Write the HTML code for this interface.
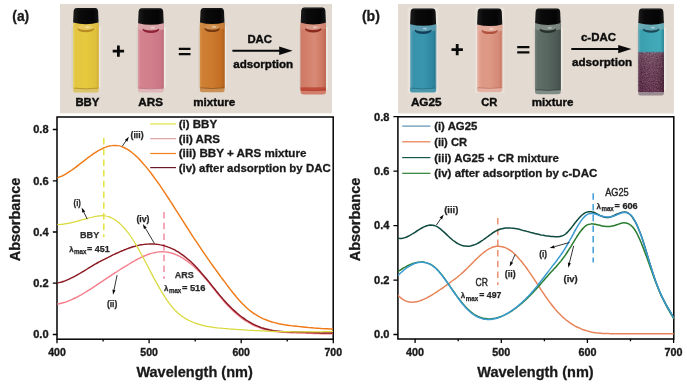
<!DOCTYPE html>
<html><head><meta charset="utf-8"><title>fig</title>
<style>
html,body{margin:0;padding:0;background:#fff;}
body{width:687px;height:384px;overflow:hidden;font-family:"Liberation Sans",sans-serif;}
svg{display:block;}
text{font-family:"Liberation Sans",sans-serif;fill:#1a1a1a;}
.b{font-weight:bold;stroke:#1a1a1a;stroke-width:0.3px;}
.tk{font-weight:bold;font-size:10.6px;stroke:#1a1a1a;stroke-width:0.35px;}
.lg{font-weight:bold;font-size:11px;stroke:#1a1a1a;stroke-width:0.3px;}
.an{font-weight:bold;font-size:9px;fill:#262626;stroke:#262626;stroke-width:0.25px;}
.an2{font-weight:bold;font-size:9.6px;fill:#303030;stroke:#303030;stroke-width:0.25px;}
.an3{font-size:10.4px;fill:#262626;stroke:#262626;stroke-width:0.4px;}
.ax{font-weight:bold;font-size:14.5px;stroke:#1a1a1a;stroke-width:0.3px;}
.ph{font-weight:bold;font-size:11.6px;fill:#0d0d0d;stroke:#0d0d0d;stroke-width:0.4px;}
</style></head><body>
<svg width="687" height="384" viewBox="0 0 687 384">
<defs>
<linearGradient id="cap" x1="0" x2="1" y1="0" y2="0"><stop offset="0" stop-color="#1c1c1c"/><stop offset="0.25" stop-color="#0a0a0a"/><stop offset="0.8" stop-color="#050505"/><stop offset="1" stop-color="#161616"/></linearGradient>
<linearGradient id="gY" x1="0" x2="1" y1="0" y2="0"><stop offset="0" stop-color="#e8d46c"/><stop offset="0.1" stop-color="#e3c540"/><stop offset="0.5" stop-color="#e7c93e"/><stop offset="0.88" stop-color="#dec03c"/><stop offset="1" stop-color="#d0b038"/></linearGradient>
<linearGradient id="gP" x1="0" x2="1" y1="0" y2="0"><stop offset="0" stop-color="#dc9ca4"/><stop offset="0.1" stop-color="#d4828f"/><stop offset="0.5" stop-color="#d27e8b"/><stop offset="0.85" stop-color="#cc7786"/><stop offset="1" stop-color="#c06d7c"/></linearGradient>
<linearGradient id="gO" x1="0" x2="1" y1="0" y2="0"><stop offset="0" stop-color="#d49048"/><stop offset="0.1" stop-color="#cf8034"/><stop offset="0.5" stop-color="#cc7a2c"/><stop offset="0.85" stop-color="#c46e24"/><stop offset="1" stop-color="#b0601e"/></linearGradient>
<linearGradient id="gS" x1="0" x2="1" y1="0" y2="0"><stop offset="0" stop-color="#cc7a68"/><stop offset="0.15" stop-color="#d07c68"/><stop offset="0.55" stop-color="#d88a76"/><stop offset="0.85" stop-color="#ce7862"/><stop offset="1" stop-color="#bc6654"/></linearGradient>
<linearGradient id="gB" x1="0" x2="1" y1="0" y2="0"><stop offset="0" stop-color="#8fbac6"/><stop offset="0.06" stop-color="#4a9ab0"/><stop offset="0.14" stop-color="#3892ab"/><stop offset="0.5" stop-color="#3995ae"/><stop offset="0.85" stop-color="#2f87a0"/><stop offset="0.95" stop-color="#2a7b94"/><stop offset="1" stop-color="#7aa8b6"/></linearGradient>
<linearGradient id="gC" x1="0" x2="1" y1="0" y2="0"><stop offset="0" stop-color="#ecc4b8"/><stop offset="0.07" stop-color="#e2a694"/><stop offset="0.2" stop-color="#dc9884"/><stop offset="0.5" stop-color="#dd9985"/><stop offset="0.85" stop-color="#d48a76"/><stop offset="0.95" stop-color="#ca7e6a"/><stop offset="1" stop-color="#dcaea0"/></linearGradient>
<linearGradient id="gG" x1="0" x2="1" y1="0" y2="0"><stop offset="0" stop-color="#74807a"/><stop offset="0.1" stop-color="#616f69"/><stop offset="0.5" stop-color="#57665f"/><stop offset="0.85" stop-color="#4c5954"/><stop offset="1" stop-color="#434f4c"/></linearGradient>
<linearGradient id="gT" x1="0" x2="1" y1="0" y2="0"><stop offset="0" stop-color="#6ab0bc"/><stop offset="0.1" stop-color="#3a9fae"/><stop offset="0.5" stop-color="#3fa7b6"/><stop offset="0.85" stop-color="#42aab8"/><stop offset="1" stop-color="#2f8898"/></linearGradient>
<linearGradient id="gU" x1="0" x2="1" y1="0" y2="0"><stop offset="0" stop-color="#5a2c44"/><stop offset="0.15" stop-color="#70405a"/><stop offset="0.5" stop-color="#784862"/><stop offset="0.85" stop-color="#6c3c56"/><stop offset="1" stop-color="#522840"/></linearGradient>
<filter id="soft" x="-2%" y="-2%" width="104%" height="104%" color-interpolation-filters="sRGB"><feGaussianBlur stdDeviation="0.45"/></filter>
<pattern id="speck" width="5" height="5" patternUnits="userSpaceOnUse"><circle cx="1.2" cy="1.3" r="0.7" fill="#a88096"/><circle cx="3.6" cy="3.4" r="0.6" fill="#4a2238"/><circle cx="3.9" cy="0.8" r="0.5" fill="#94687e"/><circle cx="0.9" cy="4" r="0.5" fill="#3e1c30"/></pattern>
<linearGradient id="gUv" x1="0" x2="0" y1="0" y2="1"><stop offset="0" stop-color="#8c687c"/><stop offset="0.12" stop-color="#7c566a"/><stop offset="0.35" stop-color="#704660"/><stop offset="1" stop-color="#5c2c46"/></linearGradient>
<linearGradient id="gUh" x1="0" x2="1" y1="0" y2="0"><stop offset="0" stop-color="#c0a8b4" stop-opacity="0.3"/><stop offset="0.1" stop-color="#000" stop-opacity="0.08"/><stop offset="0.5" stop-color="#fff" stop-opacity="0.03"/><stop offset="0.88" stop-color="#000" stop-opacity="0.1"/><stop offset="1" stop-color="#000" stop-opacity="0.28"/></linearGradient>
<filter id="gran" x="0" y="0" width="1" height="1" color-interpolation-filters="sRGB"><feTurbulence type="fractalNoise" baseFrequency="0.75" numOctaves="2" seed="7" result="n"/><feColorMatrix in="n" type="matrix" values="1.0 0 0 0 -0.1  0.7 0 0 0 -0.13  0.8 0 0 0 -0.08  0 0 0 0 1"/><feComposite in2="SourceGraphic" operator="in"/></filter>
</defs>
<rect width="687" height="384" fill="#fff"/>
<g style="opacity:0.999">

<rect x="60" y="4" width="272" height="109.3" fill="#e3dbd1"/>
<rect x="398" y="4" width="276" height="109.5" fill="#e3dbd1"/>
<g filter="url(#soft)">
<rect x="98.5" y="27.0" width="2.0" height="60.6" fill="#f1eee9" opacity="0.8"/><rect x="71.6" y="27.0" width="1.6" height="60.6" fill="#d2cac0" opacity="0.6"/><path d="M73.0 23.0H98.7V90.0Q98.7 92.6 95.7 92.6H76.0Q73.0 92.6 73.0 90.0Z" fill="#dcc468"/><rect x="73.0" y="23.0" width="25.7" height="65.4" fill="url(#gY)"/><path d="M73.0 23.0H98.7V28.6Q85.8 32.4 73.0 28.6Z" fill="#e0c060" opacity="0.25"/><path d="M73.6 88.1Q85.8 89.6 98.1 88.1" stroke="#a8841c" stroke-width="0.9" fill="none" opacity="0.8"/><ellipse cx="85.8" cy="29.0" rx="8.3" ry="3.3" fill="#b88c22"/><ellipse cx="85.8" cy="27.4" rx="8.1" ry="2.5" fill="#e6c85e"/><ellipse cx="87.6" cy="27.1" rx="2.2" ry="0.9" fill="#fff" opacity="0.45"/><path d="M73.1 22.6L73.6 11.4Q74.0 8.0 76.7 8.0H95.0Q97.7 8.0 98.1 11.4L98.6 22.6Q85.8 25.8 73.1 22.6Z" fill="url(#cap)"/><rect x="76.1" y="8.5" width="19.5" height="0.9" fill="#3a3a3a" opacity="0.5"/>
<rect x="163.6" y="27.6" width="2.0" height="60.0" fill="#f1eee9" opacity="0.8"/><rect x="136.6" y="27.6" width="1.6" height="60.0" fill="#d2cac0" opacity="0.6"/><path d="M138.0 23.6H163.8V90.0Q163.8 92.6 160.8 92.6H141.0Q138.0 92.6 138.0 90.0Z" fill="#e0b6ba"/><rect x="138.0" y="23.6" width="25.8" height="64.8" fill="url(#gP)"/><path d="M138.0 23.6H163.8V29.2Q150.9 33.0 138.0 29.2Z" fill="#dcb0b0" opacity="0.75"/><path d="M138.6 88.1Q150.9 89.6 163.2 88.1" stroke="#b86a78" stroke-width="0.9" fill="none" opacity="0.8"/><ellipse cx="150.9" cy="29.6" rx="8.3" ry="3.3" fill="#8e2436"/><ellipse cx="150.9" cy="28.0" rx="8.1" ry="2.5" fill="#d8a4a8"/><ellipse cx="152.7" cy="27.7" rx="2.2" ry="0.9" fill="#fff" opacity="0.45"/><path d="M138.1 23.2L138.6 11.6Q139.0 8.2 141.7 8.2H160.1Q162.8 8.2 163.2 11.6L163.7 23.2Q150.9 26.4 138.1 23.2Z" fill="url(#cap)"/><rect x="141.1" y="8.7" width="19.6" height="0.9" fill="#3a3a3a" opacity="0.5"/>
<rect x="224.4" y="26.8" width="2.0" height="60.5" fill="#f1eee9" opacity="0.8"/><rect x="198.5" y="26.8" width="1.6" height="60.5" fill="#d2cac0" opacity="0.6"/><path d="M199.9 22.8H224.6V89.7Q224.6 92.3 221.6 92.3H202.9Q199.9 92.3 199.9 89.7Z" fill="#cb9054"/><rect x="199.9" y="22.8" width="24.7" height="65.3" fill="url(#gO)"/><path d="M199.9 22.8H224.6V28.4Q212.2 32.2 199.9 28.4Z" fill="#cc8c4a" opacity="0.60"/><path d="M200.5 87.8Q212.2 89.3 224.0 87.8" stroke="#8a4a12" stroke-width="0.9" fill="none" opacity="0.8"/><ellipse cx="212.2" cy="28.8" rx="7.7" ry="3.3" fill="#7a3a10"/><ellipse cx="212.2" cy="27.2" rx="7.5" ry="2.5" fill="#cf9050"/><ellipse cx="214.1" cy="26.9" rx="2.2" ry="0.9" fill="#fff" opacity="0.45"/><path d="M200.0 22.4L200.5 11.3Q200.9 7.9 203.6 7.9H220.9Q223.6 7.9 224.0 11.3L224.5 22.4Q212.2 25.6 200.0 22.4Z" fill="url(#cap)"/><rect x="203.0" y="8.4" width="18.5" height="0.9" fill="#3a3a3a" opacity="0.5"/>
<rect x="325.8" y="27.2" width="2.0" height="62.2" fill="#f1eee9" opacity="0.8"/><rect x="299.2" y="27.2" width="1.6" height="62.2" fill="#d2cac0" opacity="0.6"/><path d="M300.6 23.2H326.0V91.8Q326.0 94.4 323.0 94.4H303.6Q300.6 94.4 300.6 91.8Z" fill="#d27e6a"/><rect x="300.6" y="23.2" width="25.4" height="67.0" fill="url(#gS)"/><path d="M300.6 23.2H326.0V28.8Q313.3 32.6 300.6 28.8Z" fill="#d3937e" opacity="0.60"/><path d="M301.2 89.9Q313.3 91.4 325.4 89.9" stroke="#a83a2a" stroke-width="0.9" fill="none" opacity="0.8"/><ellipse cx="313.3" cy="29.2" rx="8.1" ry="3.3" fill="#8c2a20"/><ellipse cx="313.3" cy="27.6" rx="7.9" ry="2.5" fill="#d89888"/><ellipse cx="315.1" cy="27.3" rx="2.2" ry="0.9" fill="#fff" opacity="0.45"/><rect x="300.6" y="87.3" width="25.4" height="3.4" fill="#b8402e" opacity="0.8"/><path d="M300.7 22.8L301.2 10.8Q301.6 7.4 304.3 7.4H322.3Q325.0 7.4 325.4 10.8L325.9 22.8Q313.3 26.0 300.7 22.8Z" fill="url(#cap)"/><rect x="303.7" y="7.9" width="19.2" height="0.9" fill="#3a3a3a" opacity="0.5"/>
<rect x="407.6" y="7.4" width="30.6" height="85.6" fill="#e9e3dc"/>
<path d="M410.0 24.6H436.2V90.0Q436.2 92.6 433.2 92.6H413.0Q410.0 92.6 410.0 90.0Z" fill="#4a98ac"/><rect x="410.0" y="24.6" width="26.2" height="63.8" fill="url(#gB)"/><path d="M410.0 24.6H436.2V30.2Q423.1 34.0 410.0 30.2Z" fill="#6aa2b4" opacity="0.70"/><path d="M410.6 88.1Q423.1 89.6 435.6 88.1" stroke="#1f6a82" stroke-width="0.9" fill="none" opacity="0.8"/><ellipse cx="423.1" cy="30.6" rx="8.5" ry="3.3" fill="#12405a"/><ellipse cx="423.1" cy="29.0" rx="8.3" ry="2.5" fill="#5a9cb2"/><ellipse cx="424.9" cy="28.7" rx="2.2" ry="0.9" fill="#fff" opacity="0.45"/><path d="M410.1 24.2L410.6 11.8Q411.0 8.4 413.7 8.4H432.5Q435.2 8.4 435.6 11.8L436.1 24.2Q423.1 27.4 410.1 24.2Z" fill="url(#cap)"/><rect x="413.1" y="8.9" width="20.0" height="0.9" fill="#3a3a3a" opacity="0.5"/>
<rect x="475.4" y="7.4" width="29" height="85.6" fill="#e9e3dc"/>
<path d="M477.0 24.8H502.4V89.6Q502.4 92.2 499.4 92.2H480.0Q477.0 92.2 477.0 89.6Z" fill="#e4b0a2"/><rect x="477.0" y="24.8" width="25.4" height="63.2" fill="url(#gC)"/><path d="M477.0 24.8H502.4V30.4Q489.7 34.2 477.0 30.4Z" fill="#e2b0a2" opacity="0.70"/><path d="M477.6 87.7Q489.7 89.2 501.8 87.7" stroke="#c07060" stroke-width="0.9" fill="none" opacity="0.8"/><ellipse cx="489.7" cy="30.8" rx="8.1" ry="3.3" fill="#b0503e"/><ellipse cx="489.7" cy="29.2" rx="7.9" ry="2.5" fill="#e4aa9a"/><ellipse cx="491.5" cy="28.9" rx="2.2" ry="0.9" fill="#fff" opacity="0.45"/><path d="M477.1 24.4L477.6 11.9Q478.0 8.5 480.7 8.5H498.7Q501.4 8.5 501.8 11.9L502.3 24.4Q489.7 27.6 477.1 24.4Z" fill="url(#cap)"/><rect x="480.1" y="9.0" width="19.2" height="0.9" fill="#3a3a3a" opacity="0.5"/>
<rect x="560.6" y="27.7" width="2.0" height="61.5" fill="#f1eee9" opacity="0.8"/><rect x="533.6" y="27.7" width="1.6" height="61.5" fill="#d2cac0" opacity="0.6"/><path d="M535.0 23.7H560.8V91.6Q560.8 94.2 557.8 94.2H538.0Q535.0 94.2 535.0 91.6Z" fill="#808c86"/><rect x="535.0" y="23.7" width="25.8" height="66.3" fill="url(#gG)"/><path d="M535.0 23.7H560.8V29.3Q547.9 33.1 535.0 29.3Z" fill="#8a948f" opacity="0.75"/><path d="M535.6 89.7Q547.9 91.2 560.2 89.7" stroke="#303a36" stroke-width="0.9" fill="none" opacity="0.8"/><ellipse cx="547.9" cy="29.7" rx="8.3" ry="3.3" fill="#27302d"/><ellipse cx="547.9" cy="28.1" rx="8.1" ry="2.5" fill="#7e8a84"/><ellipse cx="549.7" cy="27.8" rx="2.2" ry="0.9" fill="#fff" opacity="0.45"/><path d="M535.1 23.3L535.6 11.9Q536.0 8.5 538.7 8.5H557.1Q559.8 8.5 560.2 11.9L560.7 23.3Q547.9 26.5 535.1 23.3Z" fill="url(#cap)"/><rect x="538.1" y="9.0" width="19.6" height="0.9" fill="#3a3a3a" opacity="0.5"/>
<rect x="663.8" y="27.5" width="2.0" height="63.0" fill="#f1eee9" opacity="0.8"/><rect x="636.8" y="27.5" width="1.6" height="63.0" fill="#d2cac0" opacity="0.6"/><path d="M638.2 23.5H664.0V92.9Q664.0 95.5 661.0 95.5H641.2Q638.2 95.5 638.2 92.9Z" fill="#9a8a92"/><rect x="638.2" y="23.5" width="25.8" height="67.8" fill="url(#gT)"/><path d="M638.2 23.5H664.0V29.1Q651.1 32.9 638.2 29.1Z" fill="#7ab0b8" opacity="0.70"/><path d="M638.8 91.0Q651.1 92.5 663.4 91.0" stroke="#4a2a3a" stroke-width="0.9" fill="none" opacity="0.8"/><ellipse cx="651.1" cy="29.5" rx="8.3" ry="3.3" fill="#1a4a58"/><ellipse cx="651.1" cy="27.9" rx="8.1" ry="2.5" fill="#62a6b2"/><ellipse cx="652.9" cy="27.6" rx="2.2" ry="0.9" fill="#fff" opacity="0.45"/><rect x="638.2" y="52.6" width="25.8" height="39.4" fill="url(#gUv)"/><rect x="638.2" y="51.8" width="25.8" height="40.2" filter="url(#gran)" opacity="0.4"/><rect x="638.2" y="52.6" width="25.8" height="39.4" fill="url(#gUh)"/><path d="M638.3 23.1L638.8 11.9Q639.2 8.5 641.9 8.5H660.3Q663.0 8.5 663.4 11.9L663.9 23.1Q651.1 26.3 638.3 23.1Z" fill="url(#cap)"/><rect x="641.3" y="9.0" width="19.6" height="0.9" fill="#3a3a3a" opacity="0.5"/>
</g>
<path d="M112.7 51.2H124.1M118.4 45.6V56.8" stroke="#0a0a0a" stroke-width="2.8" fill="none"/>
<path d="M178.8 48.9H190.5M178.8 54.1H190.5" stroke="#0a0a0a" stroke-width="2.3" fill="none"/>
<path d="M451.5 49.6H462.9M457.2 44.0V55.2" stroke="#0a0a0a" stroke-width="2.8" fill="none"/>
<path d="M517.2 47.2H529.4M517.2 52.4H529.4" stroke="#0a0a0a" stroke-width="2.3" fill="none"/>
<path d="M232.4 50.75H281" stroke="#0a0a0a" stroke-width="2"/><path d="M279.2 46.4L292.6 50.75L279.2 55.1Z" fill="#0a0a0a"/>
<path d="M571.3 49.1H620" stroke="#0a0a0a" stroke-width="2"/><path d="M618.2 44.9L631.4 49.1L618.2 53.3Z" fill="#0a0a0a"/>
<text x="75.4" y="106.2" class="ph" text-anchor="start" textLength="24.0" lengthAdjust="spacingAndGlyphs">BBY</text>
<text x="138.3" y="106.2" class="ph" text-anchor="start" textLength="24.7" lengthAdjust="spacingAndGlyphs">ARS</text>
<text x="193.3" y="106.3" class="ph" text-anchor="start" textLength="41.9" lengthAdjust="spacingAndGlyphs">mixture</text>
<text x="247.4" y="43.1" class="ph" text-anchor="start" textLength="24.6" lengthAdjust="spacingAndGlyphs">DAC</text>
<text x="233.2" y="68.2" class="ph" text-anchor="start" textLength="60.0" lengthAdjust="spacingAndGlyphs">adsorption</text>
<text x="410.9" y="106.3" class="ph" text-anchor="start" textLength="30.7" lengthAdjust="spacingAndGlyphs">AG25</text>
<text x="481.3" y="106.3" class="ph" text-anchor="start" textLength="16.1" lengthAdjust="spacingAndGlyphs">CR</text>
<text x="531.8" y="106.2" class="ph" text-anchor="start" textLength="41.6" lengthAdjust="spacingAndGlyphs">mixture</text>
<text x="581.0" y="41.0" class="ph" text-anchor="start" textLength="35.0" lengthAdjust="spacingAndGlyphs">c-DAC</text>
<text x="572.0" y="66.3" class="ph" text-anchor="start" textLength="60.2" lengthAdjust="spacingAndGlyphs">adsorption</text>
<text x="12.3" y="20.6" class="b" text-anchor="start" textLength="16.9" lengthAdjust="spacingAndGlyphs" font-size="14.5">(a)</text>
<text x="361.9" y="20.6" class="b" text-anchor="start" textLength="18.0" lengthAdjust="spacingAndGlyphs" font-size="14.5">(b)</text>
<g>
<clipPath id="ca"><rect x="57.0" y="117.0" width="276.2" height="222.2"/></clipPath>
<rect x="57.0" y="117.0" width="276.2" height="222.2" fill="#fff" stroke="#000" stroke-width="1.5"/>
<path d="M52.8 334.5H57.0M52.8 283.2H57.0M52.8 232.0H57.0M52.8 180.8H57.0M52.8 129.5H57.0M57.0 339.2V343.2M149.1 339.2V343.2M241.2 339.2V343.2M333.3 339.2V343.2M103.1 339.2V341.4M195.2 339.2V341.4M287.2 339.2V341.4" stroke="#000" stroke-width="1.3" fill="none"/>
<text x="48.6" y="338.3" class="tk" text-anchor="end" textLength="15.4" lengthAdjust="spacingAndGlyphs">0.0</text>
<text x="48.6" y="287.1" class="tk" text-anchor="end" textLength="15.4" lengthAdjust="spacingAndGlyphs">0.2</text>
<text x="48.6" y="235.8" class="tk" text-anchor="end" textLength="15.4" lengthAdjust="spacingAndGlyphs">0.4</text>
<text x="48.6" y="184.6" class="tk" text-anchor="end" textLength="15.4" lengthAdjust="spacingAndGlyphs">0.6</text>
<text x="48.6" y="133.3" class="tk" text-anchor="end" textLength="15.4" lengthAdjust="spacingAndGlyphs">0.8</text>
<text x="57.0" y="355.7" class="tk" text-anchor="middle" textLength="17.6" lengthAdjust="spacingAndGlyphs">400</text>
<text x="149.1" y="355.7" class="tk" text-anchor="middle" textLength="17.6" lengthAdjust="spacingAndGlyphs">500</text>
<text x="241.2" y="355.7" class="tk" text-anchor="middle" textLength="17.6" lengthAdjust="spacingAndGlyphs">600</text>
<text x="333.3" y="355.7" class="tk" text-anchor="middle" textLength="17.6" lengthAdjust="spacingAndGlyphs">700</text>
<text x="136.4" y="377.0" class="ax" text-anchor="start" textLength="116.4" lengthAdjust="spacingAndGlyphs">Wavelength (nm)</text>
<text class="ax" text-anchor="middle" transform="translate(19.6 219.5) rotate(-90)" textLength="83.6" lengthAdjust="spacingAndGlyphs">Absorbance</text>
<path d="M103.8 138V237" stroke="#e2e23a" stroke-width="1.45" stroke-dasharray="6.5 4.2" fill="none"/>
<path d="M164 212V279" stroke="#f088a0" stroke-width="1.45" stroke-dasharray="6.5 4.2" fill="none"/>
<g clip-path="url(#ca)" fill="none" stroke-width="1.45" stroke-linejoin="round">
<path d="M57.2 304.1C57.7 304.0 59.2 303.8 60.2 303.5C61.2 303.3 62.2 303.1 63.2 302.8C64.2 302.5 65.2 302.2 66.2 301.8C67.2 301.5 68.2 301.1 69.2 300.7C70.2 300.3 71.2 299.9 72.2 299.4C73.2 299.0 74.2 298.5 75.2 298.0C76.2 297.5 77.2 297.0 78.2 296.4C79.2 295.9 80.2 295.3 81.2 294.8C82.2 294.2 83.2 293.6 84.2 293.0C85.2 292.4 86.2 291.8 87.2 291.2C88.2 290.5 89.2 289.9 90.2 289.3C91.2 288.6 92.2 288.0 93.2 287.3C94.2 286.7 95.2 286.0 96.2 285.4C97.2 284.7 98.2 284.0 99.2 283.4C100.2 282.7 101.2 282.0 102.2 281.4C103.2 280.7 104.2 280.0 105.2 279.4C106.2 278.7 107.2 278.0 108.2 277.4C109.2 276.7 110.2 276.1 111.2 275.4C112.2 274.7 113.2 274.1 114.2 273.4C115.2 272.8 116.2 272.1 117.2 271.5C118.2 270.8 119.2 270.2 120.2 269.5C121.2 268.9 122.2 268.3 123.2 267.6C124.2 267.0 125.2 266.4 126.2 265.8C127.2 265.2 128.2 264.6 129.2 264.0C130.2 263.4 131.2 262.8 132.2 262.2C133.2 261.6 134.2 261.1 135.2 260.5C136.2 260.0 137.2 259.4 138.2 258.9C139.2 258.4 140.2 257.9 141.2 257.4C142.2 256.9 143.2 256.5 144.2 256.0C145.2 255.6 146.2 255.2 147.2 254.8C148.2 254.4 149.2 254.1 150.2 253.8C151.2 253.4 152.2 253.1 153.2 252.9C154.2 252.7 155.2 252.4 156.2 252.3C157.2 252.1 158.2 252.0 159.2 251.9C160.2 251.8 161.2 251.7 162.2 251.7C163.2 251.7 164.2 251.8 165.2 251.9C166.2 252.0 167.2 252.1 168.2 252.3C169.2 252.5 170.2 252.8 171.2 253.0C172.2 253.3 173.2 253.6 174.2 254.0C175.2 254.4 176.2 254.8 177.2 255.2C178.2 255.7 179.2 256.2 180.2 256.7C181.2 257.2 182.2 257.8 183.2 258.4C184.2 259.0 185.2 259.7 186.2 260.4C187.2 261.1 188.2 261.8 189.2 262.6C190.2 263.3 191.2 264.1 192.2 265.0C193.2 265.8 194.2 266.7 195.2 267.7C196.2 268.6 197.2 269.6 198.2 270.6C199.2 271.6 200.2 272.6 201.2 273.7C202.2 274.8 203.2 275.9 204.2 277.0C205.2 278.2 206.2 279.4 207.2 280.5C208.2 281.7 209.2 283.0 210.2 284.2C211.2 285.4 212.2 286.7 213.2 288.0C214.2 289.2 215.2 290.5 216.2 291.7C217.2 293.0 218.2 294.3 219.2 295.5C220.2 296.7 221.2 298.0 222.2 299.2C223.2 300.4 224.2 301.5 225.2 302.7C226.2 303.8 227.2 304.9 228.2 306.0C229.2 307.0 230.2 308.0 231.2 309.0C232.2 310.0 233.2 310.9 234.2 311.9C235.2 312.8 236.2 313.6 237.2 314.5C238.2 315.3 239.2 316.1 240.2 316.9C241.2 317.7 242.2 318.4 243.2 319.1C244.2 319.8 245.2 320.5 246.2 321.1C247.2 321.7 248.2 322.3 249.2 322.9C250.2 323.5 251.2 324.0 252.2 324.5C253.2 325.0 254.2 325.5 255.2 326.0C256.2 326.4 257.2 326.8 258.2 327.2C259.2 327.6 260.2 328.0 261.2 328.3C262.2 328.7 263.2 329.0 264.2 329.3C265.2 329.5 266.2 329.8 267.2 330.0C268.2 330.3 269.2 330.5 270.2 330.7C271.2 330.9 272.2 331.0 273.2 331.2C274.2 331.4 275.2 331.5 276.2 331.6C277.2 331.7 278.2 331.9 279.2 331.9C280.2 332.0 281.2 332.1 282.2 332.2C283.2 332.3 284.2 332.3 285.2 332.4C286.2 332.5 287.2 332.5 288.2 332.6C289.2 332.6 290.2 332.6 291.2 332.7C292.2 332.7 293.2 332.7 294.2 332.8C295.2 332.8 296.2 332.9 297.2 332.9C298.2 332.9 299.2 333.0 300.2 333.0C301.2 333.0 302.2 333.1 303.2 333.1C304.2 333.1 305.2 333.2 306.2 333.2C307.2 333.2 308.2 333.3 309.2 333.3C310.2 333.3 311.2 333.4 312.2 333.4C313.2 333.4 314.2 333.5 315.2 333.5C316.2 333.5 317.2 333.6 318.2 333.6C319.2 333.6 320.2 333.6 321.2 333.7C322.2 333.7 323.2 333.7 324.2 333.7C325.2 333.7 326.2 333.8 327.2 333.8C328.2 333.8 329.2 333.8 330.2 333.8C331.2 333.8 332.7 333.8 333.2 333.8" stroke="#f47f8c"/>
<path d="M57.2 283.0C57.7 282.9 59.2 282.7 60.2 282.4C61.2 282.2 62.2 281.9 63.2 281.5C64.2 281.2 65.2 280.8 66.2 280.4C67.2 280.0 68.2 279.6 69.2 279.1C70.2 278.7 71.2 278.2 72.2 277.7C73.2 277.2 74.2 276.6 75.2 276.1C76.2 275.6 77.2 275.0 78.2 274.4C79.2 273.8 80.2 273.2 81.2 272.6C82.2 272.0 83.2 271.4 84.2 270.8C85.2 270.2 86.2 269.6 87.2 269.0C88.2 268.3 89.2 267.7 90.2 267.1C91.2 266.5 92.2 265.9 93.2 265.3C94.2 264.7 95.2 264.2 96.2 263.6C97.2 263.0 98.2 262.5 99.2 261.9C100.2 261.4 101.2 260.8 102.2 260.3C103.2 259.8 104.2 259.3 105.2 258.8C106.2 258.2 107.2 257.7 108.2 257.3C109.2 256.8 110.2 256.3 111.2 255.8C112.2 255.3 113.2 254.8 114.2 254.4C115.2 253.9 116.2 253.4 117.2 253.0C118.2 252.5 119.2 252.1 120.2 251.6C121.2 251.2 122.2 250.8 123.2 250.4C124.2 249.9 125.2 249.5 126.2 249.2C127.2 248.8 128.2 248.4 129.2 248.0C130.2 247.7 131.2 247.4 132.2 247.0C133.2 246.7 134.2 246.4 135.2 246.2C136.2 245.9 137.2 245.7 138.2 245.4C139.2 245.2 140.2 245.0 141.2 244.8C142.2 244.7 143.2 244.5 144.2 244.4C145.2 244.3 146.2 244.2 147.2 244.1C148.2 244.0 149.2 244.0 150.2 244.0C151.2 244.0 152.2 244.0 153.2 244.0C154.2 244.1 155.2 244.1 156.2 244.2C157.2 244.3 158.2 244.5 159.2 244.6C160.2 244.8 161.2 245.0 162.2 245.3C163.2 245.5 164.2 245.8 165.2 246.1C166.2 246.4 167.2 246.7 168.2 247.1C169.2 247.4 170.2 247.9 171.2 248.3C172.2 248.7 173.2 249.2 174.2 249.7C175.2 250.3 176.2 250.8 177.2 251.4C178.2 252.0 179.2 252.6 180.2 253.3C181.2 253.9 182.2 254.6 183.2 255.4C184.2 256.1 185.2 256.9 186.2 257.7C187.2 258.5 188.2 259.3 189.2 260.2C190.2 261.1 191.2 262.0 192.2 263.0C193.2 264.0 194.2 265.0 195.2 266.0C196.2 267.1 197.2 268.1 198.2 269.2C199.2 270.4 200.2 271.5 201.2 272.7C202.2 273.8 203.2 275.0 204.2 276.2C205.2 277.4 206.2 278.6 207.2 279.8C208.2 281.1 209.2 282.3 210.2 283.5C211.2 284.8 212.2 286.0 213.2 287.3C214.2 288.5 215.2 289.7 216.2 291.0C217.2 292.2 218.2 293.4 219.2 294.6C220.2 295.8 221.2 297.0 222.2 298.1C223.2 299.3 224.2 300.4 225.2 301.5C226.2 302.6 227.2 303.7 228.2 304.7C229.2 305.8 230.2 306.8 231.2 307.7C232.2 308.7 233.2 309.7 234.2 310.6C235.2 311.5 236.2 312.4 237.2 313.2C238.2 314.1 239.2 314.9 240.2 315.7C241.2 316.5 242.2 317.2 243.2 317.9C244.2 318.7 245.2 319.3 246.2 320.0C247.2 320.7 248.2 321.3 249.2 321.9C250.2 322.5 251.2 323.1 252.2 323.6C253.2 324.1 254.2 324.6 255.2 325.1C256.2 325.6 257.2 326.0 258.2 326.4C259.2 326.8 260.2 327.2 261.2 327.6C262.2 327.9 263.2 328.2 264.2 328.5C265.2 328.8 266.2 329.1 267.2 329.3C268.2 329.6 269.2 329.8 270.2 330.0C271.2 330.2 272.2 330.3 273.2 330.5C274.2 330.6 275.2 330.8 276.2 330.9C277.2 331.0 278.2 331.1 279.2 331.2C280.2 331.3 281.2 331.4 282.2 331.4C283.2 331.5 284.2 331.6 285.2 331.6C286.2 331.7 287.2 331.7 288.2 331.7C289.2 331.8 290.2 331.8 291.2 331.8C292.2 331.9 293.2 331.9 294.2 331.9C295.2 332.0 296.2 332.0 297.2 332.0C298.2 332.1 299.2 332.1 300.2 332.1C301.2 332.2 302.2 332.2 303.2 332.3C304.2 332.3 305.2 332.3 306.2 332.4C307.2 332.4 308.2 332.5 309.2 332.5C310.2 332.5 311.2 332.6 312.2 332.6C313.2 332.7 314.2 332.7 315.2 332.7C316.2 332.8 317.2 332.8 318.2 332.8C319.2 332.9 320.2 332.9 321.2 332.9C322.2 332.9 323.2 333.0 324.2 333.0C325.2 333.0 326.2 333.0 327.2 333.0C328.2 333.0 329.2 333.0 330.2 333.0C331.2 333.0 332.7 333.0 333.2 333.0" stroke="#8b1a22"/>
<path d="M57.3 224.6C57.8 224.6 59.3 224.6 60.3 224.5C61.3 224.4 62.4 224.3 63.4 224.1C64.4 224.0 65.4 223.8 66.4 223.7C67.4 223.5 68.4 223.3 69.4 223.1C70.4 222.9 71.4 222.6 72.5 222.4C73.5 222.2 74.5 221.9 75.5 221.6C76.5 221.4 77.5 221.1 78.5 220.8C79.5 220.6 80.5 220.3 81.6 220.0C82.6 219.7 83.6 219.4 84.6 219.1C85.6 218.9 86.6 218.6 87.6 218.3C88.6 218.0 89.6 217.7 90.7 217.5C91.7 217.2 92.7 217.0 93.7 216.8C94.7 216.5 95.7 216.3 96.7 216.2C97.7 216.0 98.7 215.9 99.7 215.8C100.8 215.7 101.8 215.7 102.8 215.7C103.8 215.7 104.8 215.8 105.8 216.0C106.8 216.2 107.8 216.4 108.8 216.7C109.9 217.1 110.9 217.5 111.9 218.0C112.9 218.4 113.9 219.0 114.9 219.7C115.9 220.3 116.9 221.1 117.9 221.9C118.9 222.7 120.0 223.6 121.0 224.6C122.0 225.5 123.0 226.6 124.0 227.7C125.0 228.9 126.0 230.1 127.0 231.4C128.0 232.6 129.1 234.0 130.1 235.5C131.1 236.9 132.1 238.4 133.1 240.0C134.1 241.6 135.1 243.2 136.1 244.9C137.1 246.7 138.1 248.4 139.2 250.2C140.2 252.0 141.2 253.9 142.2 255.7C143.2 257.6 144.2 259.5 145.2 261.5C146.2 263.4 147.2 265.3 148.3 267.3C149.3 269.2 150.3 271.2 151.3 273.1C152.3 275.1 153.3 277.0 154.3 278.9C155.3 280.8 156.3 282.6 157.4 284.4C158.4 286.2 159.4 288.0 160.4 289.7C161.4 291.4 162.4 293.1 163.4 294.7C164.4 296.3 165.4 297.9 166.4 299.3C167.5 300.8 168.5 302.2 169.5 303.6C170.5 304.9 171.5 306.2 172.5 307.4C173.5 308.6 174.5 309.7 175.5 310.7C176.6 311.8 177.6 312.7 178.6 313.6C179.6 314.4 180.6 315.2 181.6 316.0C182.6 316.7 183.6 317.3 184.6 318.0C185.6 318.6 186.7 319.2 187.7 319.7C188.7 320.2 189.7 320.7 190.7 321.2C191.7 321.7 192.7 322.1 193.7 322.5C194.7 322.9 195.8 323.3 196.8 323.6C197.8 324.0 198.8 324.3 199.8 324.6C200.8 324.9 201.8 325.2 202.8 325.4C203.8 325.7 204.9 325.9 205.9 326.1C206.9 326.4 207.9 326.5 208.9 326.7C209.9 326.9 210.9 327.1 211.9 327.2C212.9 327.4 213.9 327.5 215.0 327.6C216.0 327.7 217.0 327.9 218.0 328.0C219.0 328.1 220.0 328.2 221.0 328.2C222.0 328.3 223.0 328.4 224.1 328.5C225.1 328.6 226.1 328.7 227.1 328.7C228.1 328.8 229.1 328.9 230.1 329.0C231.1 329.0 232.1 329.1 233.1 329.2C234.2 329.3 235.2 329.3 236.2 329.4C237.2 329.5 238.2 329.5 239.2 329.6C240.2 329.7 241.2 329.7 242.2 329.8C243.3 329.9 244.3 329.9 245.3 330.0C246.3 330.0 247.3 330.1 248.3 330.2C249.3 330.2 250.3 330.3 251.3 330.3C252.4 330.4 253.4 330.4 254.4 330.5C255.4 330.5 256.4 330.6 257.4 330.6C258.4 330.7 259.4 330.7 260.4 330.8C261.4 330.8 262.5 330.9 263.5 330.9C264.5 331.0 265.5 331.0 266.5 331.0C267.5 331.1 268.5 331.1 269.5 331.2C270.5 331.2 271.6 331.2 272.6 331.3C273.6 331.3 274.6 331.3 275.6 331.4C276.6 331.4 277.6 331.4 278.6 331.5C279.6 331.5 280.6 331.5 281.7 331.5C282.7 331.6 283.7 331.6 284.7 331.6C285.7 331.6 286.7 331.6 287.7 331.7C288.7 331.7 289.7 331.7 290.8 331.7C291.8 331.7 292.8 331.8 293.8 331.8C294.8 331.8 295.8 331.8 296.8 331.8C297.8 331.8 298.8 331.8 299.8 331.8C300.9 331.8 301.9 331.8 302.9 331.8C303.9 331.9 304.9 331.9 305.9 331.9C306.9 331.9 307.9 331.9 308.9 331.9C310.0 331.9 311.0 331.9 312.0 331.9C313.0 331.8 314.0 331.8 315.0 331.8C316.0 331.8 317.0 331.8 318.0 331.8C319.1 331.8 320.1 331.8 321.1 331.8C322.1 331.8 323.1 331.7 324.1 331.7C325.1 331.7 326.1 331.7 327.1 331.7C328.1 331.7 329.2 331.6 330.2 331.6C331.2 331.6 332.7 331.6 333.2 331.5" stroke="#d9d93a" stroke-width="1.25"/>
<path d="M57.3 177.8C57.8 177.6 59.3 177.1 60.3 176.7C61.3 176.3 62.4 175.8 63.4 175.3C64.4 174.8 65.4 174.2 66.4 173.6C67.4 173.0 68.4 172.4 69.4 171.7C70.4 171.0 71.4 170.3 72.5 169.6C73.5 168.9 74.5 168.2 75.5 167.4C76.5 166.7 77.5 165.9 78.5 165.1C79.5 164.3 80.5 163.5 81.6 162.7C82.6 161.9 83.6 161.1 84.6 160.4C85.6 159.6 86.6 158.8 87.6 158.0C88.6 157.3 89.6 156.5 90.7 155.8C91.7 155.0 92.7 154.3 93.7 153.6C94.7 152.9 95.7 152.3 96.7 151.6C97.7 151.0 98.7 150.4 99.7 149.9C100.8 149.3 101.8 148.8 102.8 148.3C103.8 147.9 104.8 147.4 105.8 147.1C106.8 146.7 107.8 146.4 108.8 146.1C109.9 145.9 110.9 145.7 111.9 145.6C112.9 145.4 113.9 145.4 114.9 145.4C115.9 145.4 116.9 145.5 117.9 145.6C118.9 145.8 120.0 146.0 121.0 146.4C122.0 146.7 123.0 147.1 124.0 147.5C125.0 148.0 126.0 148.5 127.0 149.1C128.0 149.7 129.1 150.4 130.1 151.1C131.1 151.8 132.1 152.6 133.1 153.5C134.1 154.3 135.1 155.2 136.1 156.1C137.1 157.1 138.1 158.1 139.2 159.1C140.2 160.2 141.2 161.3 142.2 162.4C143.2 163.5 144.2 164.7 145.2 165.9C146.2 167.1 147.2 168.3 148.3 169.6C149.3 170.9 150.3 172.2 151.3 173.5C152.3 174.8 153.3 176.2 154.3 177.6C155.3 179.0 156.3 180.4 157.4 181.8C158.4 183.2 159.4 184.7 160.4 186.1C161.4 187.6 162.4 189.1 163.4 190.6C164.4 192.1 165.4 193.6 166.4 195.2C167.5 196.7 168.5 198.3 169.5 199.8C170.5 201.4 171.5 202.9 172.5 204.5C173.5 206.1 174.5 207.7 175.5 209.3C176.6 210.9 177.6 212.5 178.6 214.1C179.6 215.6 180.6 217.2 181.6 218.8C182.6 220.4 183.6 222.0 184.6 223.6C185.6 225.2 186.7 226.8 187.7 228.4C188.7 230.0 189.7 231.6 190.7 233.1C191.7 234.7 192.7 236.3 193.7 237.8C194.7 239.3 195.8 240.9 196.8 242.4C197.8 243.9 198.8 245.4 199.8 246.9C200.8 248.4 201.8 249.9 202.8 251.4C203.8 252.9 204.9 254.4 205.9 255.8C206.9 257.3 207.9 258.8 208.9 260.2C209.9 261.6 210.9 263.1 211.9 264.5C212.9 265.9 213.9 267.3 215.0 268.7C216.0 270.2 217.0 271.5 218.0 272.9C219.0 274.3 220.0 275.7 221.0 277.1C222.0 278.4 223.0 279.8 224.1 281.1C225.1 282.5 226.1 283.8 227.1 285.2C228.1 286.5 229.1 287.8 230.1 289.1C231.1 290.4 232.1 291.7 233.1 293.0C234.2 294.2 235.2 295.4 236.2 296.7C237.2 297.9 238.2 299.0 239.2 300.2C240.2 301.3 241.2 302.4 242.2 303.5C243.3 304.5 244.3 305.5 245.3 306.5C246.3 307.4 247.3 308.4 248.3 309.2C249.3 310.1 250.3 310.9 251.3 311.6C252.4 312.4 253.4 313.1 254.4 313.8C255.4 314.4 256.4 315.1 257.4 315.6C258.4 316.2 259.4 316.8 260.4 317.3C261.4 317.8 262.5 318.3 263.5 318.8C264.5 319.2 265.5 319.6 266.5 320.0C267.5 320.4 268.5 320.8 269.5 321.1C270.5 321.5 271.6 321.8 272.6 322.1C273.6 322.4 274.6 322.7 275.6 322.9C276.6 323.2 277.6 323.4 278.6 323.7C279.6 323.9 280.6 324.1 281.7 324.3C282.7 324.4 283.7 324.6 284.7 324.8C285.7 324.9 286.7 325.1 287.7 325.2C288.7 325.4 289.7 325.5 290.8 325.6C291.8 325.8 292.8 325.9 293.8 326.0C294.8 326.1 295.8 326.2 296.8 326.3C297.8 326.4 298.8 326.5 299.8 326.6C300.9 326.7 301.9 326.9 302.9 327.0C303.9 327.1 304.9 327.2 305.9 327.3C306.9 327.4 307.9 327.5 308.9 327.6C310.0 327.6 311.0 327.7 312.0 327.8C313.0 327.9 314.0 328.0 315.0 328.1C316.0 328.2 317.0 328.2 318.0 328.3C319.1 328.4 320.1 328.4 321.1 328.5C322.1 328.6 323.1 328.6 324.1 328.7C325.1 328.7 326.1 328.8 327.1 328.8C328.1 328.9 329.2 328.9 330.2 328.9C331.2 328.9 332.7 329.0 333.2 329.0" stroke="#f07a16"/>
</g>
<path d="M150.2 123.9H176" stroke="#e2e244" stroke-width="1.2"/>
<text x="178.7" y="127.8" class="lg" text-anchor="start" textLength="38.4" lengthAdjust="spacingAndGlyphs">(i) BBY</text>
<path d="M150.2 138.7H176" stroke="#dca0a8" stroke-width="1.2"/>
<text x="178.7" y="142.6" class="lg" text-anchor="start" textLength="41.3" lengthAdjust="spacingAndGlyphs">(ii) ARS</text>
<path d="M150.2 153.5H176" stroke="#f5801c" stroke-width="1.2"/>
<text x="178.7" y="157.4" class="lg" text-anchor="start" textLength="127.8" lengthAdjust="spacingAndGlyphs">(iii) BBY + ARS mixture</text>
<path d="M150.2 167.6H176" stroke="#6a1828" stroke-width="1.2"/>
<text x="178.7" y="171.5" class="lg" text-anchor="start" textLength="152.0" lengthAdjust="spacingAndGlyphs">(iv) after adsorption by DAC</text>
<path d="M122.2 146.3L126.0 140.8" stroke="#111" stroke-width="0.85" fill="none"/><path d="M128.9 136.7L127.3 141.7L124.8 139.9Z" fill="#0a0a0a"/>
<text x="130.5" y="138.4" class="an" text-anchor="start" textLength="13.1" lengthAdjust="spacingAndGlyphs">(iii)</text>
<path d="M87.2 219.1L83.8 212.1" stroke="#111" stroke-width="0.85" fill="none"/><path d="M81.6 207.6L85.2 211.4L82.4 212.8Z" fill="#0a0a0a"/>
<text x="73.6" y="206.2" class="an" text-anchor="start" textLength="7.2" lengthAdjust="spacingAndGlyphs">(i)</text>
<path d="M154.5 243.6L145.4 228.2" stroke="#111" stroke-width="0.85" fill="none"/><path d="M142.8 223.9L146.7 227.4L144.0 229.0Z" fill="#0a0a0a"/>
<text x="136.4" y="222.0" class="an" text-anchor="start" textLength="13.1" lengthAdjust="spacingAndGlyphs">(iv)</text>
<path d="M117.1 275.1L114.0 289.9" stroke="#111" stroke-width="0.85" fill="none"/><path d="M113.0 294.8L112.5 289.6L115.5 290.2Z" fill="#0a0a0a"/>
<text x="106.9" y="307.2" class="an" text-anchor="start" textLength="10.4" lengthAdjust="spacingAndGlyphs">(ii)</text>
<text x="80.0" y="238.2" class="an2" text-anchor="start" textLength="19.2" lengthAdjust="spacingAndGlyphs">BBY</text>
<text x="69.2" y="251.6" class="an" style="font-size:7.4px" textLength="4.4" lengthAdjust="spacingAndGlyphs">&#955;</text><text x="74.1" y="253.9" class="an" style="font-size:6.5px" textLength="12.4" lengthAdjust="spacingAndGlyphs">max</text><text x="87.1" y="251.6" class="an" textLength="22.6" lengthAdjust="spacingAndGlyphs">= 451</text>
<text x="174.7" y="278.1" class="an2" text-anchor="start" textLength="19.1" lengthAdjust="spacingAndGlyphs">ARS</text>
<text x="164.0" y="290.5" class="an" style="font-size:7.4px" textLength="4.4" lengthAdjust="spacingAndGlyphs">&#955;</text><text x="168.9" y="292.8" class="an" style="font-size:6.5px" textLength="12.4" lengthAdjust="spacingAndGlyphs">max</text><text x="181.9" y="290.5" class="an" textLength="23.6" lengthAdjust="spacingAndGlyphs">= 516</text>
</g>
<g>
<clipPath id="cb"><rect x="397.9" y="116.8" width="275.9" height="222.2"/></clipPath>
<rect x="397.9" y="116.8" width="275.9" height="222.2" fill="#fff" stroke="#000" stroke-width="1.5"/>
<path d="M393.4 334.5H397.9M393.4 280.1H397.9M393.4 225.6H397.9M393.4 171.2H397.9M393.4 116.7H397.9M415.1 339.0V343.0M501.3 339.0V343.0M587.4 339.0V343.0M673.6 339.0V343.0M458.2 339.0V341.2M544.4 339.0V341.2M630.5 339.0V341.2" stroke="#000" stroke-width="1.3" fill="none"/>
<text x="389.5" y="338.3" class="tk" text-anchor="end" textLength="15.4" lengthAdjust="spacingAndGlyphs">0.0</text>
<text x="389.5" y="283.9" class="tk" text-anchor="end" textLength="15.4" lengthAdjust="spacingAndGlyphs">0.2</text>
<text x="389.5" y="229.4" class="tk" text-anchor="end" textLength="15.4" lengthAdjust="spacingAndGlyphs">0.4</text>
<text x="389.5" y="175.0" class="tk" text-anchor="end" textLength="15.4" lengthAdjust="spacingAndGlyphs">0.6</text>
<text x="389.5" y="120.5" class="tk" text-anchor="end" textLength="15.4" lengthAdjust="spacingAndGlyphs">0.8</text>
<text x="415.1" y="355.7" class="tk" text-anchor="middle" textLength="18.0" lengthAdjust="spacingAndGlyphs">400</text>
<text x="501.3" y="355.7" class="tk" text-anchor="middle" textLength="18.0" lengthAdjust="spacingAndGlyphs">500</text>
<text x="587.4" y="355.7" class="tk" text-anchor="middle" textLength="18.0" lengthAdjust="spacingAndGlyphs">600</text>
<text x="673.6" y="355.7" class="tk" text-anchor="middle" textLength="18.0" lengthAdjust="spacingAndGlyphs">700</text>
<text x="477.3" y="377.0" class="ax" text-anchor="start" textLength="116.4" lengthAdjust="spacingAndGlyphs">Wavelength (nm)</text>
<text class="ax" text-anchor="middle" transform="translate(359.7 219.5) rotate(-90)" textLength="83.6" lengthAdjust="spacingAndGlyphs">Absorbance</text>
<path d="M497.8 218V285" stroke="#e88c64" stroke-width="1.4" stroke-dasharray="6.5 4.2" fill="none"/>
<path d="M593.2 193.3V262.5" stroke="#4aa2d8" stroke-width="1.6" stroke-dasharray="6.5 4.2" fill="none"/>
<g clip-path="url(#cb)" fill="none" stroke-width="1.5" stroke-linejoin="round">
<path d="M397.7 295.0C398.1 295.4 399.4 296.7 400.2 297.4C401.0 298.1 401.9 298.8 402.7 299.3C403.6 299.8 404.4 300.3 405.2 300.7C406.1 301.0 406.9 301.3 407.7 301.6C408.6 301.8 409.4 302.0 410.3 302.1C411.1 302.1 411.9 302.2 412.8 302.2C413.6 302.1 414.4 302.1 415.3 301.9C416.1 301.8 417.0 301.6 417.8 301.4C418.6 301.2 419.5 300.9 420.3 300.6C421.1 300.4 422.0 300.0 422.8 299.7C423.6 299.3 424.5 299.0 425.3 298.6C426.2 298.2 427.0 297.7 427.8 297.3C428.7 296.9 429.5 296.4 430.3 295.9C431.2 295.4 432.0 295.0 432.9 294.4C433.7 293.9 434.5 293.4 435.4 292.9C436.2 292.3 437.0 291.8 437.9 291.2C438.7 290.7 439.5 290.1 440.4 289.5C441.2 288.9 442.1 288.4 442.9 287.8C443.7 287.2 444.6 286.6 445.4 286.0C446.2 285.4 447.1 284.8 447.9 284.2C448.8 283.6 449.6 283.0 450.4 282.3C451.3 281.7 452.1 281.1 452.9 280.5C453.8 279.8 454.6 279.2 455.5 278.6C456.3 277.9 457.1 277.3 458.0 276.6C458.8 275.9 459.6 275.2 460.5 274.5C461.3 273.8 462.1 273.0 463.0 272.3C463.8 271.5 464.7 270.7 465.5 269.9C466.3 269.1 467.2 268.3 468.0 267.5C468.8 266.6 469.7 265.8 470.5 265.0C471.4 264.1 472.2 263.3 473.0 262.4C473.9 261.6 474.7 260.7 475.5 259.9C476.4 259.1 477.2 258.3 478.0 257.5C478.9 256.7 479.7 255.9 480.6 255.2C481.4 254.4 482.2 253.7 483.1 253.0C483.9 252.3 484.7 251.7 485.6 251.1C486.4 250.5 487.3 249.9 488.1 249.4C488.9 248.9 489.8 248.4 490.6 248.1C491.4 247.7 492.3 247.3 493.1 247.0C494.0 246.8 494.8 246.6 495.6 246.4C496.5 246.3 497.3 246.2 498.1 246.2C499.0 246.2 499.8 246.2 500.6 246.4C501.5 246.5 502.3 246.7 503.2 246.9C504.0 247.1 504.8 247.5 505.7 247.8C506.5 248.2 507.3 248.6 508.2 249.1C509.0 249.6 509.9 250.1 510.7 250.7C511.5 251.3 512.4 252.0 513.2 252.7C514.0 253.4 514.9 254.2 515.7 255.0C516.5 255.9 517.4 256.7 518.2 257.7C519.1 258.6 519.9 259.6 520.7 260.6C521.6 261.6 522.4 262.6 523.2 263.7C524.1 264.8 524.9 265.9 525.8 267.0C526.6 268.2 527.4 269.4 528.3 270.6C529.1 271.7 529.9 273.0 530.8 274.2C531.6 275.4 532.5 276.7 533.3 277.9C534.1 279.2 535.0 280.5 535.8 281.7C536.6 283.0 537.5 284.3 538.3 285.5C539.1 286.8 540.0 288.1 540.8 289.4C541.7 290.6 542.5 291.9 543.3 293.1C544.2 294.4 545.0 295.6 545.8 296.8C546.7 298.0 547.5 299.2 548.4 300.4C549.2 301.5 550.0 302.7 550.9 303.8C551.7 304.9 552.5 306.0 553.4 307.0C554.2 308.0 555.1 309.0 555.9 310.0C556.7 310.9 557.6 311.9 558.4 312.8C559.2 313.6 560.1 314.5 560.9 315.3C561.7 316.1 562.6 316.9 563.4 317.7C564.3 318.4 565.1 319.1 565.9 319.8C566.8 320.5 567.6 321.1 568.4 321.7C569.3 322.4 570.1 322.9 571.0 323.5C571.8 324.0 572.6 324.6 573.5 325.1C574.3 325.6 575.1 326.0 576.0 326.5C576.8 326.9 577.6 327.3 578.5 327.7C579.3 328.1 580.2 328.5 581.0 328.8C581.8 329.2 582.7 329.5 583.5 329.8C584.3 330.1 585.2 330.4 586.0 330.6C586.9 330.9 587.7 331.1 588.5 331.3C589.4 331.5 590.2 331.7 591.0 331.9C591.9 332.1 592.7 332.2 593.6 332.4C594.4 332.5 595.2 332.6 596.1 332.8C596.9 332.9 597.7 333.0 598.6 333.1C599.4 333.2 600.2 333.2 601.1 333.3C601.9 333.4 602.8 333.4 603.6 333.5C604.4 333.5 605.3 333.5 606.1 333.6C606.9 333.6 607.8 333.6 608.6 333.6C609.5 333.6 610.3 333.7 611.1 333.7C612.0 333.7 612.8 333.7 613.6 333.7C614.5 333.7 615.3 333.7 616.1 333.7C617.0 333.7 617.8 333.7 618.7 333.7C619.5 333.7 620.3 333.7 621.2 333.7C622.0 333.7 622.8 333.7 623.7 333.7C624.5 333.7 625.4 333.7 626.2 333.7C627.0 333.7 627.9 333.7 628.7 333.7C629.5 333.7 630.4 333.7 631.2 333.7C632.1 333.7 632.9 333.7 633.7 333.7C634.6 333.7 635.4 333.7 636.2 333.7C637.1 333.7 637.9 333.7 638.7 333.7C639.6 333.7 640.4 333.7 641.3 333.7C642.1 333.7 642.9 333.7 643.8 333.7C644.6 333.7 645.4 333.7 646.3 333.7C647.1 333.7 648.0 333.7 648.8 333.7C649.6 333.7 650.5 333.7 651.3 333.7C652.1 333.7 653.0 333.7 653.8 333.7C654.6 333.7 655.5 333.7 656.3 333.7C657.2 333.7 658.0 333.7 658.8 333.7C659.7 333.7 660.5 333.7 661.3 333.7C662.2 333.7 663.0 333.7 663.9 333.7C664.7 333.7 665.5 333.7 666.4 333.7C667.2 333.7 668.0 333.7 668.9 333.7C669.7 333.7 670.6 333.7 671.4 333.7C672.2 333.7 673.5 333.7 673.9 333.7" stroke="#e88458"/>
<path d="M397.7 238.3C398.1 238.3 399.4 238.5 400.2 238.5C401.0 238.5 401.9 238.4 402.7 238.3C403.6 238.1 404.4 237.9 405.2 237.6C406.1 237.3 406.9 236.9 407.7 236.5C408.6 236.1 409.4 235.7 410.3 235.2C411.1 234.7 411.9 234.2 412.8 233.7C413.6 233.2 414.4 232.6 415.3 232.1C416.1 231.5 417.0 231.0 417.8 230.4C418.6 229.9 419.5 229.4 420.3 228.9C421.1 228.4 422.0 227.9 422.8 227.5C423.6 227.1 424.5 226.7 425.3 226.3C426.2 226.0 427.0 225.7 427.8 225.5C428.7 225.3 429.5 225.2 430.3 225.1C431.2 225.1 432.0 225.1 432.9 225.2C433.7 225.3 434.5 225.5 435.4 225.9C436.2 226.2 437.0 226.6 437.9 227.2C438.7 227.7 439.5 228.3 440.4 228.9C441.2 229.6 442.1 230.3 442.9 231.1C443.7 231.8 444.6 232.6 445.4 233.4C446.2 234.2 447.1 235.0 447.9 235.8C448.8 236.6 449.6 237.4 450.4 238.2C451.3 238.9 452.1 239.6 452.9 240.3C453.8 240.9 454.6 241.5 455.5 242.1C456.3 242.7 457.1 243.2 458.0 243.6C458.8 244.1 459.6 244.5 460.5 244.8C461.3 245.2 462.1 245.5 463.0 245.7C463.8 245.9 464.7 246.1 465.5 246.1C466.3 246.2 467.2 246.3 468.0 246.2C468.8 246.2 469.7 246.1 470.5 246.0C471.4 245.8 472.2 245.6 473.0 245.3C473.9 245.1 474.7 244.8 475.5 244.4C476.4 244.1 477.2 243.7 478.0 243.2C478.9 242.8 479.7 242.3 480.6 241.7C481.4 241.2 482.2 240.6 483.1 240.0C483.9 239.4 484.7 238.8 485.6 238.2C486.4 237.6 487.3 236.9 488.1 236.3C488.9 235.7 489.8 235.1 490.6 234.5C491.4 233.9 492.3 233.3 493.1 232.7C494.0 232.2 494.8 231.7 495.6 231.2C496.5 230.7 497.3 230.3 498.1 230.0C499.0 229.6 499.8 229.3 500.6 229.0C501.5 228.8 502.3 228.6 503.2 228.4C504.0 228.2 504.8 228.1 505.7 228.0C506.5 227.9 507.3 227.9 508.2 227.9C509.0 227.9 509.9 227.9 510.7 228.0C511.5 228.0 512.4 228.1 513.2 228.2C514.0 228.3 514.9 228.4 515.7 228.6C516.5 228.7 517.4 228.9 518.2 229.1C519.1 229.3 519.9 229.5 520.7 229.7C521.6 229.9 522.4 230.2 523.2 230.4C524.1 230.6 524.9 230.8 525.8 231.1C526.6 231.3 527.4 231.6 528.3 231.8C529.1 232.0 529.9 232.2 530.8 232.5C531.6 232.7 532.5 232.9 533.3 233.1C534.1 233.3 535.0 233.5 535.8 233.7C536.6 233.9 537.5 234.1 538.3 234.3C539.1 234.5 540.0 234.7 540.8 234.9C541.7 235.0 542.5 235.2 543.3 235.3C544.2 235.5 545.0 235.6 545.8 235.8C546.7 235.9 547.5 236.0 548.4 236.1C549.2 236.2 550.0 236.3 550.9 236.4C551.7 236.5 552.5 236.6 553.4 236.6C554.2 236.7 555.1 236.7 555.9 236.8C556.7 236.8 557.6 236.8 558.4 236.7C559.2 236.7 560.1 236.6 560.9 236.3C561.7 236.1 562.6 235.8 563.4 235.4C564.3 235.0 565.1 234.4 565.9 233.7C566.8 233.0 567.6 232.2 568.4 231.3C569.3 230.4 570.1 229.3 571.0 228.3C571.8 227.2 572.6 226.1 573.5 225.0C574.3 224.0 575.1 222.8 576.0 221.8C576.8 220.7 577.6 219.6 578.5 218.7C579.3 217.7 580.2 216.8 581.0 216.0C581.8 215.2 582.7 214.4 583.5 213.9C584.3 213.3 585.2 212.8 586.0 212.4C586.9 212.1 587.7 211.9 588.5 211.7C589.4 211.6 590.2 211.6 591.0 211.7C591.9 211.8 592.7 212.0 593.6 212.3C594.4 212.6 595.2 213.0 596.1 213.4C596.9 213.7 597.7 214.2 598.6 214.6C599.4 215.1 600.2 215.5 601.1 215.9C601.9 216.3 602.8 216.7 603.6 216.9C604.4 217.2 605.3 217.5 606.1 217.5C606.9 217.6 607.8 217.6 608.6 217.5C609.5 217.4 610.3 217.1 611.1 216.8C612.0 216.5 612.8 216.1 613.6 215.8C614.5 215.4 615.3 214.9 616.1 214.5C617.0 214.1 617.8 213.7 618.7 213.4C619.5 213.0 620.3 212.7 621.2 212.5C622.0 212.3 622.8 212.1 623.7 212.1C624.5 212.0 625.4 212.1 626.2 212.3C627.0 212.6 627.9 213.0 628.7 213.5C629.5 214.1 630.4 214.9 631.2 215.8C632.1 216.8 632.9 217.9 633.7 219.3C634.6 220.6 635.4 222.1 636.2 223.7C637.1 225.4 637.9 227.2 638.7 229.2C639.6 231.3 640.4 233.4 641.3 235.8C642.1 238.1 642.9 240.6 643.8 243.2C644.6 245.8 645.4 248.6 646.3 251.4C647.1 254.2 648.0 257.1 648.8 259.9C649.6 262.7 650.5 265.5 651.3 268.2C652.1 270.9 653.0 273.5 653.8 276.0C654.6 278.5 655.5 280.9 656.3 283.2C657.2 285.4 658.0 287.6 658.8 289.6C659.7 291.7 660.5 293.6 661.3 295.4C662.2 297.2 663.0 298.8 663.9 300.5C664.7 302.1 665.5 303.6 666.4 305.1C667.2 306.6 668.0 308.0 668.9 309.5C669.7 310.9 670.6 312.3 671.4 313.8C672.2 315.2 673.5 317.5 673.9 318.2" stroke="#0e4a3e"/>
<path d="M397.7 271.7C398.1 271.4 399.4 270.6 400.2 270.1C401.0 269.5 401.9 269.0 402.7 268.5C403.6 268.0 404.4 267.5 405.2 267.1C406.1 266.6 406.9 266.1 407.7 265.7C408.6 265.3 409.4 264.9 410.3 264.5C411.1 264.2 411.9 263.8 412.8 263.5C413.6 263.3 414.4 263.0 415.3 262.8C416.1 262.5 417.0 262.4 417.8 262.2C418.6 262.1 419.5 262.0 420.3 262.0C421.1 261.9 422.0 261.9 422.8 262.0C423.6 262.1 424.5 262.2 425.3 262.4C426.2 262.6 427.0 262.8 427.8 263.1C428.7 263.4 429.5 263.8 430.3 264.2C431.2 264.7 432.0 265.2 432.9 265.8C433.7 266.4 434.5 267.0 435.4 267.8C436.2 268.5 437.0 269.4 437.9 270.3C438.7 271.1 439.5 272.1 440.4 273.1C441.2 274.1 442.1 275.2 442.9 276.3C443.7 277.4 444.6 278.5 445.4 279.7C446.2 280.8 447.1 282.0 447.9 283.2C448.8 284.4 449.6 285.7 450.4 286.9C451.3 288.1 452.1 289.3 452.9 290.5C453.8 291.7 454.6 292.9 455.5 294.1C456.3 295.2 457.1 296.4 458.0 297.5C458.8 298.6 459.6 299.7 460.5 300.8C461.3 301.9 462.1 302.9 463.0 303.9C463.8 304.9 464.7 305.9 465.5 306.8C466.3 307.7 467.2 308.5 468.0 309.3C468.8 310.1 469.7 310.9 470.5 311.6C471.4 312.3 472.2 312.9 473.0 313.5C473.9 314.1 474.7 314.6 475.5 315.1C476.4 315.6 477.2 316.0 478.0 316.4C478.9 316.8 479.7 317.1 480.6 317.4C481.4 317.7 482.2 318.0 483.1 318.2C483.9 318.4 484.7 318.5 485.6 318.6C486.4 318.8 487.3 318.8 488.1 318.9C488.9 318.9 489.8 318.9 490.6 318.9C491.4 318.8 492.3 318.7 493.1 318.6C494.0 318.5 494.8 318.4 495.6 318.2C496.5 318.0 497.3 317.8 498.1 317.5C499.0 317.3 499.8 317.0 500.6 316.7C501.5 316.4 502.3 316.0 503.2 315.6C504.0 315.3 504.8 314.9 505.7 314.4C506.5 314.0 507.3 313.5 508.2 313.1C509.0 312.6 509.9 312.1 510.7 311.6C511.5 311.0 512.4 310.5 513.2 309.9C514.0 309.3 514.9 308.7 515.7 308.1C516.5 307.5 517.4 306.9 518.2 306.2C519.1 305.6 519.9 304.9 520.7 304.2C521.6 303.5 522.4 302.8 523.2 302.0C524.1 301.3 524.9 300.5 525.8 299.7C526.6 299.0 527.4 298.2 528.3 297.3C529.1 296.5 529.9 295.7 530.8 294.8C531.6 294.0 532.5 293.1 533.3 292.2C534.1 291.3 535.0 290.4 535.8 289.5C536.6 288.6 537.5 287.6 538.3 286.7C539.1 285.7 540.0 284.8 540.8 283.8C541.7 282.9 542.5 281.9 543.3 280.9C544.2 280.0 545.0 279.0 545.8 278.0C546.7 277.1 547.5 276.1 548.4 275.1C549.2 274.2 550.0 273.3 550.9 272.3C551.7 271.4 552.5 270.5 553.4 269.6C554.2 268.7 555.1 267.8 555.9 266.9C556.7 266.0 557.6 265.0 558.4 264.1C559.2 263.1 560.1 262.1 560.9 261.1C561.7 260.0 562.6 259.0 563.4 257.8C564.3 256.7 565.1 255.5 565.9 254.3C566.8 253.1 567.6 251.7 568.4 250.4C569.3 249.1 570.1 247.7 571.0 246.3C571.8 244.9 572.6 243.5 573.5 242.1C574.3 240.8 575.1 239.4 576.0 238.1C576.8 236.7 577.6 235.4 578.5 234.2C579.3 233.0 580.2 231.8 581.0 230.8C581.8 229.7 582.7 228.7 583.5 227.9C584.3 227.0 585.2 226.3 586.0 225.7C586.9 225.1 587.7 224.7 588.5 224.4C589.4 224.1 590.2 223.9 591.0 223.9C591.9 223.8 592.7 223.9 593.6 223.9C594.4 224.0 595.2 224.2 596.1 224.4C596.9 224.6 597.7 224.9 598.6 225.1C599.4 225.3 600.2 225.5 601.1 225.7C601.9 225.9 602.8 226.1 603.6 226.2C604.4 226.3 605.3 226.4 606.1 226.5C606.9 226.5 607.8 226.6 608.6 226.5C609.5 226.5 610.3 226.4 611.1 226.3C612.0 226.2 612.8 226.0 613.6 225.8C614.5 225.6 615.3 225.3 616.1 225.0C617.0 224.7 617.8 224.4 618.7 224.1C619.5 223.8 620.3 223.4 621.2 223.2C622.0 223.0 622.8 222.8 623.7 222.8C624.5 222.8 625.4 222.8 626.2 222.9C627.0 223.1 627.9 223.4 628.7 223.8C629.5 224.3 630.4 224.8 631.2 225.6C632.1 226.3 632.9 227.2 633.7 228.3C634.6 229.4 635.4 230.8 636.2 232.2C637.1 233.7 637.9 235.4 638.7 237.2C639.6 239.0 640.4 240.9 641.3 243.0C642.1 245.0 642.9 247.2 643.8 249.4C644.6 251.6 645.4 253.8 646.3 256.1C647.1 258.4 648.0 260.8 648.8 263.1C649.6 265.4 650.5 267.8 651.3 270.1C652.1 272.4 653.0 274.7 653.8 276.9C654.6 279.1 655.5 281.4 656.3 283.5C657.2 285.6 658.0 287.7 658.8 289.8C659.7 291.8 660.5 293.7 661.3 295.6C662.2 297.4 663.0 299.2 663.9 300.9C664.7 302.6 665.5 304.2 666.4 305.8C667.2 307.4 668.0 308.9 668.9 310.4C669.7 311.8 670.6 313.3 671.4 314.7C672.2 316.1 673.5 318.1 673.9 318.8" stroke="#287c2e"/>
<path d="M397.7 275.8C398.1 275.4 399.4 274.1 400.2 273.3C401.0 272.6 401.9 271.8 402.7 271.1C403.6 270.4 404.4 269.7 405.2 269.0C406.1 268.4 406.9 267.8 407.7 267.2C408.6 266.6 409.4 266.1 410.3 265.6C411.1 265.1 411.9 264.7 412.8 264.3C413.6 263.9 414.4 263.6 415.3 263.3C416.1 263.0 417.0 262.8 417.8 262.6C418.6 262.4 419.5 262.3 420.3 262.2C421.1 262.2 422.0 262.1 422.8 262.2C423.6 262.3 424.5 262.4 425.3 262.6C426.2 262.7 427.0 263.0 427.8 263.3C428.7 263.6 429.5 264.0 430.3 264.4C431.2 264.9 432.0 265.4 432.9 266.0C433.7 266.6 434.5 267.3 435.4 268.0C436.2 268.8 437.0 269.6 437.9 270.5C438.7 271.4 439.5 272.4 440.4 273.4C441.2 274.4 442.1 275.5 442.9 276.5C443.7 277.6 444.6 278.8 445.4 280.0C446.2 281.1 447.1 282.3 447.9 283.5C448.8 284.7 449.6 286.0 450.4 287.2C451.3 288.4 452.1 289.6 452.9 290.8C453.8 292.1 454.6 293.3 455.5 294.5C456.3 295.6 457.1 296.8 458.0 298.0C458.8 299.1 459.6 300.2 460.5 301.3C461.3 302.4 462.1 303.5 463.0 304.5C463.8 305.5 464.7 306.5 465.5 307.4C466.3 308.3 467.2 309.2 468.0 310.0C468.8 310.8 469.7 311.6 470.5 312.3C471.4 313.0 472.2 313.6 473.0 314.2C473.9 314.8 474.7 315.4 475.5 315.8C476.4 316.3 477.2 316.8 478.0 317.1C478.9 317.5 479.7 317.9 480.6 318.1C481.4 318.4 482.2 318.7 483.1 318.9C483.9 319.1 484.7 319.2 485.6 319.3C486.4 319.4 487.3 319.5 488.1 319.5C488.9 319.5 489.8 319.5 490.6 319.4C491.4 319.3 492.3 319.2 493.1 319.1C494.0 319.0 494.8 318.8 495.6 318.6C496.5 318.3 497.3 318.1 498.1 317.8C499.0 317.5 499.8 317.2 500.6 316.9C501.5 316.5 502.3 316.2 503.2 315.7C504.0 315.3 504.8 314.9 505.7 314.4C506.5 314.0 507.3 313.5 508.2 313.0C509.0 312.5 509.9 311.9 510.7 311.4C511.5 310.8 512.4 310.2 513.2 309.6C514.0 309.0 514.9 308.4 515.7 307.7C516.5 307.1 517.4 306.4 518.2 305.7C519.1 305.0 519.9 304.3 520.7 303.5C521.6 302.8 522.4 302.0 523.2 301.2C524.1 300.5 524.9 299.6 525.8 298.8C526.6 298.0 527.4 297.1 528.3 296.2C529.1 295.3 529.9 294.4 530.8 293.5C531.6 292.6 532.5 291.6 533.3 290.7C534.1 289.7 535.0 288.7 535.8 287.7C536.6 286.6 537.5 285.6 538.3 284.5C539.1 283.5 540.0 282.4 540.8 281.3C541.7 280.2 542.5 279.1 543.3 278.0C544.2 276.9 545.0 275.8 545.8 274.7C546.7 273.6 547.5 272.5 548.4 271.4C549.2 270.3 550.0 269.2 550.9 268.1C551.7 267.0 552.5 265.9 553.4 264.8C554.2 263.7 555.1 262.7 555.9 261.6C556.7 260.5 557.6 259.4 558.4 258.3C559.2 257.1 560.1 256.0 560.9 254.8C561.7 253.6 562.6 252.4 563.4 251.1C564.3 249.8 565.1 248.5 565.9 247.1C566.8 245.7 567.6 244.2 568.4 242.8C569.3 241.3 570.1 239.7 571.0 238.2C571.8 236.7 572.6 235.1 573.5 233.6C574.3 232.0 575.1 230.5 576.0 229.0C576.8 227.5 577.6 226.1 578.5 224.7C579.3 223.4 580.2 222.1 581.0 220.9C581.8 219.7 582.7 218.6 583.5 217.7C584.3 216.8 585.2 215.9 586.0 215.3C586.9 214.7 587.7 214.2 588.5 213.9C589.4 213.6 590.2 213.5 591.0 213.5C591.9 213.4 592.7 213.5 593.6 213.7C594.4 213.8 595.2 214.1 596.1 214.3C596.9 214.6 597.7 214.9 598.6 215.2C599.4 215.5 600.2 215.8 601.1 216.0C601.9 216.2 602.8 216.4 603.6 216.6C604.4 216.8 605.3 216.9 606.1 216.9C606.9 217.0 607.8 217.0 608.6 217.0C609.5 217.0 610.3 216.9 611.1 216.7C612.0 216.6 612.8 216.3 613.6 216.1C614.5 215.8 615.3 215.4 616.1 215.1C617.0 214.7 617.8 214.3 618.7 214.0C619.5 213.7 620.3 213.3 621.2 213.1C622.0 212.8 622.8 212.6 623.7 212.5C624.5 212.4 625.4 212.4 626.2 212.5C627.0 212.7 627.9 212.9 628.7 213.4C629.5 213.9 630.4 214.5 631.2 215.3C632.1 216.2 632.9 217.3 633.7 218.6C634.6 219.9 635.4 221.5 636.2 223.3C637.1 225.0 637.9 227.0 638.7 229.2C639.6 231.3 640.4 233.6 641.3 236.1C642.1 238.5 642.9 241.1 643.8 243.7C644.6 246.3 645.4 249.1 646.3 251.8C647.1 254.5 648.0 257.3 648.8 260.0C649.6 262.7 650.5 265.4 651.3 268.0C652.1 270.6 653.0 273.2 653.8 275.7C654.6 278.2 655.5 280.6 656.3 282.9C657.2 285.2 658.0 287.5 658.8 289.5C659.7 291.6 660.5 293.6 661.3 295.4C662.2 297.3 663.0 299.0 663.9 300.6C664.7 302.2 665.5 303.8 666.4 305.3C667.2 306.8 668.0 308.2 668.9 309.6C669.7 311.0 670.6 312.4 671.4 313.8C672.2 315.2 673.5 317.4 673.9 318.1" stroke="#3a9ad2"/>
</g>
<path d="M402.2 126.1H430.4" stroke="#5a90b0" stroke-width="1.2"/>
<text x="434.2" y="130.0" class="lg" text-anchor="start" textLength="43.1" lengthAdjust="spacingAndGlyphs">(i) AG25</text>
<path d="M402.2 141.8H430.4" stroke="#ea7a4c" stroke-width="1.2"/>
<text x="434.2" y="145.8" class="lg" text-anchor="start" textLength="32.9" lengthAdjust="spacingAndGlyphs">(ii) CR</text>
<path d="M402.2 157.6H430.4" stroke="#14584a" stroke-width="1.2"/>
<text x="434.2" y="161.5" class="lg" text-anchor="start" textLength="124.6" lengthAdjust="spacingAndGlyphs">(iii) AG25 + CR mixture</text>
<path d="M402.2 173.3H430.4" stroke="#2c8030" stroke-width="1.2"/>
<text x="434.2" y="177.2" class="lg" text-anchor="start" textLength="163.1" lengthAdjust="spacingAndGlyphs">(iv) after adsorption by c-DAC</text>
<path d="M436.4 225.0L440.9 218.5" stroke="#111" stroke-width="0.85" fill="none"/><path d="M443.7 214.4L442.1 219.4L439.6 217.6Z" fill="#0a0a0a"/>
<text x="444.2" y="212.5" class="an" text-anchor="start" textLength="14.2" lengthAdjust="spacingAndGlyphs">(iii)</text>
<path d="M515.1 254.5L511.7 262.0" stroke="#111" stroke-width="0.85" fill="none"/><path d="M509.7 266.6L510.3 261.4L513.2 262.7Z" fill="#0a0a0a"/>
<text x="504.8" y="277.4" class="an" text-anchor="start" textLength="10.8" lengthAdjust="spacingAndGlyphs">(ii)</text>
<path d="M569.4 242.5L554.4 246.7" stroke="#111" stroke-width="0.85" fill="none"/><path d="M549.6 248.0L554.0 245.2L554.8 248.2Z" fill="#0a0a0a"/>
<text x="539.2" y="257.0" class="an" text-anchor="start" textLength="7.8" lengthAdjust="spacingAndGlyphs">(i)</text>
<path d="M573.7 245.8L569.4 262.9" stroke="#111" stroke-width="0.85" fill="none"/><path d="M568.2 267.7L567.9 262.5L570.9 263.2Z" fill="#0a0a0a"/>
<text x="563.5" y="282.2" class="an" text-anchor="start" textLength="14.2" lengthAdjust="spacingAndGlyphs">(iv)</text>
<text x="475.6" y="285.5" class="an3" text-anchor="start" textLength="12.4" lengthAdjust="spacingAndGlyphs">CR</text>
<text x="460.8" y="298.4" class="an" style="font-size:7.4px" textLength="4.4" lengthAdjust="spacingAndGlyphs">&#955;</text><text x="465.7" y="300.7" class="an" style="font-size:6.5px" textLength="12.4" lengthAdjust="spacingAndGlyphs">max</text><text x="479.3" y="298.4" class="an" textLength="22.2" lengthAdjust="spacingAndGlyphs">= 497</text>
<text x="605.2" y="195.5" class="an3" text-anchor="start" textLength="23.5" lengthAdjust="spacingAndGlyphs">AG25</text>
<text x="596.5" y="208.8" class="an" style="font-size:7.4px" textLength="4.4" lengthAdjust="spacingAndGlyphs">&#955;</text><text x="601.4" y="211.1" class="an" style="font-size:6.5px" textLength="12.4" lengthAdjust="spacingAndGlyphs">max</text><text x="614.5" y="208.8" class="an" textLength="23.2" lengthAdjust="spacingAndGlyphs">= 606</text>
</g>
</g></svg></body></html>
